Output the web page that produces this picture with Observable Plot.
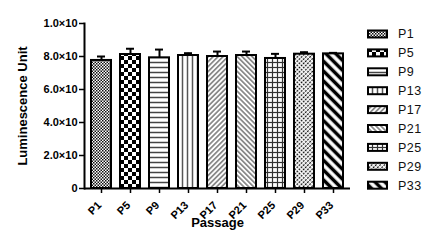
<!DOCTYPE html>
<html>
<head>
<meta charset="utf-8">
<script src="https://cdn.jsdelivr.net/npm/d3@7"></script>
<script src="https://cdn.jsdelivr.net/npm/@observablehq/plot@0.6"></script>
<style>
  html, body { margin: 0; padding: 0; background: #fff; }
  #chart svg { display: block; }
</style>
</head>
<body>
<div id="chart"></div>
<script>
const passages = ["P1", "P5", "P9", "P13", "P17", "P21", "P25", "P29", "P33"];
const means = [7.76, 8.12, 7.92, 8.06, 8.00, 8.06, 7.88, 8.14, 8.16];
const errors = [0.24, 0.35, 0.50, 0.14, 0.30, 0.24, 0.28, 0.12, 0.06];
const yTicks = [0, 2, 4, 6, 8, 10];
const yTickLabels = ["0", "2.0×10", "4.0×10", "6.0×10", "8.0×10", "1.0×10"];
const yTitle = "Luminescence Unit";
const xTitle = "Passage";

const data = passages.map((p, i) => ({p, v: means[i], e: errors[i], pat: `url(#pat${i})`}));

const patternDefs = `
<pattern id="pat0" width="3" height="3" patternUnits="userSpaceOnUse"><rect width="3" height="3" fill="#fff"/><rect width="1.5" height="1.5" fill="#111"/><rect x="1.5" y="1.5" width="1.5" height="1.5" fill="#111"/></pattern>
<pattern id="pat1" width="8" height="8" patternUnits="userSpaceOnUse"><rect width="8" height="8" fill="#fff"/><rect width="4" height="4" fill="#000"/><rect x="4" y="4" width="4" height="4" fill="#000"/></pattern>
<pattern id="pat2" width="5" height="5" patternUnits="userSpaceOnUse"><rect width="5" height="5" fill="#fff"/><line x1="0" x2="5" y1="2.5" y2="2.5" stroke="#444" stroke-width="1.5"/></pattern>
<pattern id="pat3" width="5" height="5" patternUnits="userSpaceOnUse"><rect width="5" height="5" fill="#fff"/><line y1="0" y2="5" x1="2.5" x2="2.5" stroke="#555" stroke-width="1.5"/></pattern>
<pattern id="pat4" width="3.5" height="3.5" patternUnits="userSpaceOnUse" patternTransform="rotate(45)"><rect width="3.5" height="3.5" fill="#fff"/><line y1="0" y2="3.5" x1="1.75" x2="1.75" stroke="#333" stroke-width="1"/></pattern>
<pattern id="pat5" width="3.5" height="3.5" patternUnits="userSpaceOnUse" patternTransform="rotate(-45)"><rect width="3.5" height="3.5" fill="#fff"/><line y1="0" y2="3.5" x1="1.75" x2="1.75" stroke="#333" stroke-width="1"/></pattern>
<pattern id="pat6" width="5" height="5" patternUnits="userSpaceOnUse"><rect width="5" height="5" fill="#fff"/><line x1="0" x2="5" y1="2.5" y2="2.5" stroke="#333" stroke-width="1.2"/><line y1="0" y2="5" x1="2.5" x2="2.5" stroke="#333" stroke-width="1.2"/></pattern>
<pattern id="pat7" width="3" height="3" patternUnits="userSpaceOnUse" patternTransform="rotate(45)"><rect width="3" height="3" fill="#fff"/><line y1="0" y2="3" x1="1.5" x2="1.5" stroke="#111" stroke-width="1.3" stroke-dasharray="2 1"/></pattern>
<pattern id="pat8" width="7" height="7" patternUnits="userSpaceOnUse" patternTransform="rotate(-45)"><rect width="7" height="7" fill="#fff"/><line y1="0" y2="7" x1="3.5" x2="3.5" stroke="#000" stroke-width="3.5"/></pattern>
`;

const font = "'Liberation Sans', Arial, sans-serif";

const barMarks = data.map(d => Plot.barY([d], {x: "p", y: "v", fill: d.pat, stroke: "#000", strokeWidth: 2}));

const chart = Plot.plot({
  width: 437,
  height: 242,
  marginLeft: 84,
  marginRight: 87,
  marginTop: 23,
  marginBottom: 54,
  style: {fontFamily: font, background: "#fff", color: "#000", overflow: "visible"},
  x: {domain: passages, paddingInner: 0.3, paddingOuter: 0.15, align: 0.5, label: null},
  y: {domain: [0, 10], label: null},
  marks: [
    ...barMarks,
    Plot.ruleX(data, {x: "p", y1: "v", y2: d => d.v + d.e, stroke: "#000", strokeWidth: 2}),
    Plot.tickY(data, {x: "p", y: d => d.v + d.e, stroke: "#000", strokeWidth: 2, insetLeft: 6, insetRight: 6}),
    Plot.ruleY([0], {stroke: "#000", strokeWidth: 2}),
    Plot.frame({anchor: "left", stroke: "#000", strokeWidth: 2}),
    Plot.axisY({ticks: yTicks, tickFormat: d => yTickLabels[yTicks.indexOf(d)], tickSize: 5, tickPadding: 2,
      fontSize: 11, fontWeight: "bold", strokeWidth: 1.5, label: null}),
    Plot.axisX({tickSize: 5, tickFormat: () => "", strokeWidth: 1.5, label: null}),
    Plot.text(passages, {x: d => d, frameAnchor: "bottom", rotate: -45, textAnchor: "end", lineAnchor: "top",
      dx: -5, dy: 12, fontSize: 11, fontWeight: "bold", fill: "#000"}),
    Plot.text([yTitle], {frameAnchor: "left", rotate: -90, textAnchor: "middle", lineAnchor: "middle", dx: -62,
      fontSize: 13, fontWeight: "bold", fill: "#000"}),
    Plot.text([xTitle], {frameAnchor: "bottom", textAnchor: "middle", lineAnchor: "middle", dy: 34,
      fontSize: 13, fontWeight: "bold", fill: "#000"})
  ]
});

const svg = d3.select(chart);
svg.insert("defs", ":first-child").html(patternDefs);

// Legend
const legend = svg.append("g").attr("font-family", font).attr("font-size", 12.5).attr("text-anchor", "start");
passages.forEach((p, i) => {
  const cy = 34 + i * 18.9;
  legend.append("rect").attr("x", 368).attr("y", cy - 3.5).attr("width", 19).attr("height", 7)
    .attr("fill", `url(#pat${i})`).attr("stroke", "#000").attr("stroke-width", 2);
  legend.append("text").attr("x", 398).attr("y", cy).attr("dy", "0.35em").attr("fill", "#111")
    .attr("letter-spacing", "0.5").text(p);
});

document.getElementById("chart").appendChild(chart);
</script>
</body>
</html>
